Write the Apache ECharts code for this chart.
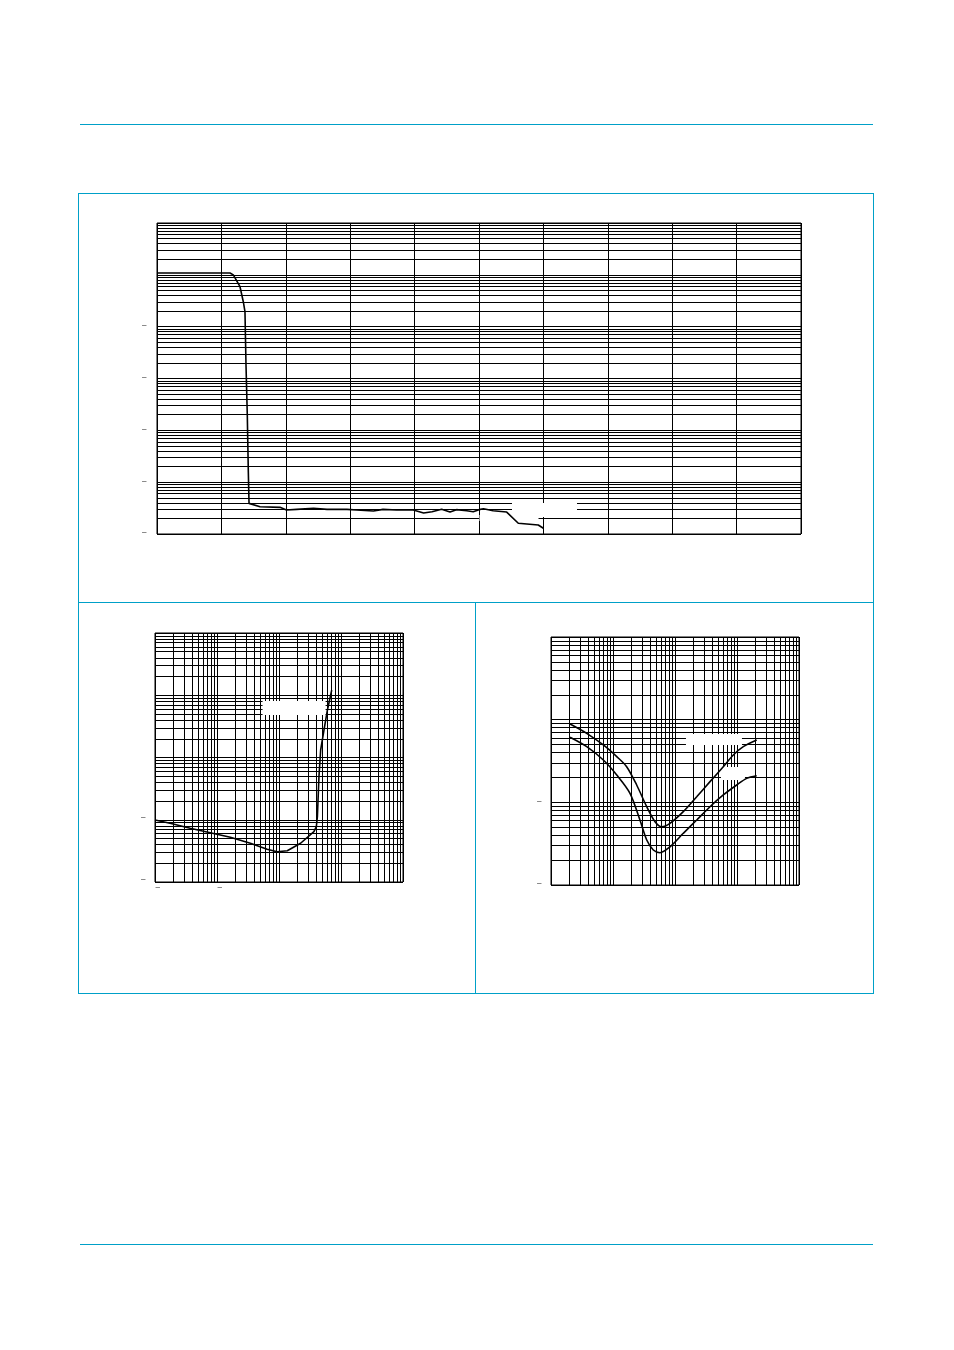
<!DOCTYPE html>
<html><head><meta charset="utf-8">
<script src="https://cdn.jsdelivr.net/npm/echarts@6/dist/echarts.min.js"></script>
<style>
html,body{margin:0;padding:0;background:#fff;}
#page{position:relative;width:954px;height:1350px;overflow:hidden;background:#fff;}
#chart{position:absolute;left:0;top:0;width:954px;height:1350px;}
.c{position:absolute;background:#00a0c8;}
</style></head><body>
<div id="page">
<div class="c" style="left:80px;top:123.5px;width:793px;height:1.5px"></div>
<div class="c" style="left:80px;top:1243.5px;width:793px;height:1.5px"></div>
<div class="c" style="left:78px;top:193px;width:796px;height:1px"></div>
<div class="c" style="left:78px;top:993px;width:796px;height:1px"></div>
<div class="c" style="left:78px;top:193px;width:1px;height:801px"></div>
<div class="c" style="left:873px;top:193px;width:1px;height:801px"></div>
<div class="c" style="left:78px;top:602px;width:796px;height:1px"></div>
<div class="c" style="left:475px;top:602px;width:1px;height:392px"></div>
<div id="chart"></div>
</div>
<script>
// ---- data ----
// Top chart (linear x, log y)
const topX = [0, 1.134, 1.185, 1.211, 1.289, 1.340, 1.366, 1.382, 1.402, 1.418, 1.429, 1.444, 1.60, 1.91, 2.01, 2.17, 2.43, 2.64, 2.95, 3.10, 3.36, 3.51, 3.72, 3.98, 4.14, 4.27, 4.42, 4.55, 4.65, 4.81, 4.91, 5.00, 5.07, 5.22, 5.43, 5.61, 5.92, 6.00];
const topY = [1.085, 1.085, 1.0, 0.92, 0.59, 0.303, 0.195, 0.0182, 0.0020, 1.6e-4, 3.9e-5, 3.74e-5, 3.36e-5, 3.27e-5, 2.90e-5, 2.99e-5, 3.13e-5, 2.99e-5, 2.99e-5, 2.90e-5, 2.77e-5, 2.99e-5, 2.90e-5, 2.90e-5, 2.55e-5, 2.69e-5, 2.99e-5, 2.65e-5, 2.95e-5, 2.81e-5, 2.68e-5, 2.95e-5, 3.08e-5, 2.80e-5, 2.65e-5, 1.61e-5, 1.49e-5, 1.29e-5];
// Bottom-left chart (log x, log y)
const blX = [0.01, 0.0175, 0.0369, 0.0778, 0.164, 0.345, 0.644, 0.935, 1.36, 2.23, 3.66, 4.0, 4.16, 4.41, 4.70, 5.32, 6.04, 7.08];
const blY = [0.099, 0.0877, 0.0729, 0.0620, 0.0523, 0.0419, 0.0335, 0.0307, 0.0318, 0.0419, 0.0643, 0.0773, 0.112, 0.492, 1.32, 2.77, 5.80, 12.1];
// Bottom-right chart (log x, log y), two curves
const brUpperX = [2.03, 3.77, 6.98, 11.5, 16.6, 24.1, 35.0, 47.6, 61.0, 83.0, 136, 224, 367, 601, 872, 1264, 2078];
const brUpperY = [0.887, 0.684, 0.494, 0.357, 0.270, 0.162, 0.0886, 0.0583, 0.0507, 0.0557, 0.0771, 0.117, 0.178, 0.270, 0.374, 0.471, 0.568];
const brLowerX = [2.03, 3.77, 6.98, 11.5, 18.8, 27.2, 35.0, 44.7, 57.3, 83.0, 136, 224, 367, 601, 989, 1432, 2078];
const brLowerY = [0.612, 0.471, 0.325, 0.214, 0.1285, 0.0611, 0.0350, 0.0265, 0.0246, 0.0290, 0.0422, 0.0611, 0.0885, 0.1227, 0.162, 0.195, 0.210];
// Tick labels (only the minus signs survive in the reference)
const topYTicks = [1e-5, 1e-4, 1e-3, 1e-2, 1e-1, 1, 10];
const topYLabels = ['–', '–', '–', '–', '–', '', ''];
const blXTicks = [0.01, 0.1, 1, 10, 100];
const blXLabels = ['–', '–', '', '', ''];
const blYTicks = [0.01, 0.1, 1, 10, 100];
const blYLabels = ['–', '–', '', '', ''];
const brYTicks = [0.01, 0.1, 1, 10];
const brYLabels = ['–', '–', '', ''];
// Blank (white) label boxes left in the reference: [x, y, w, h]
const topBoxes = [[6.017, 2.90e-5, 65, 14], [5.466, 2.03e-5, 59, 6]];
const blBoxes = [[1.75, 6.24, 63, 14]];
const brBoxes = [[425, 0.575, 56, 11], [861, 0.2234, 24, 13]];

// ---- helpers ----
function minors(loExp, hiExp) {
  const out = [];
  for (let e = loExp; e < hiExp; e++) for (let m = 2; m <= 9; m++) out.push(+(m * Math.pow(10, e)).toPrecision(6));
  return out;
}
function labeler(ticks, labels) {
  return function (v) {
    for (let i = 0; i < ticks.length; i++) if (Math.abs(Math.log10(v) - Math.log10(ticks[i])) < 1e-6) return labels[i];
    return '';
  };
}
const BLACK = '#000';
const split = { show: true, lineStyle: { color: BLACK, width: 1 } };
function gridLineSeries(xi, yi, xMinor, yMinor) {
  const d = [];
  xMinor.forEach(v => d.push({ xAxis: v }));
  yMinor.forEach(v => d.push({ yAxis: v }));
  return {
    type: 'line', xAxisIndex: xi, yAxisIndex: yi, data: [], silent: true, z: 1,
    markLine: { silent: true, z: 1, precision: 12, symbol: ['none', 'none'], animation: false,
      label: { show: false }, lineStyle: { color: BLACK, width: 1, type: 'solid' },
      emphasis: { disabled: true }, data: d }
  };
}
function boxSeries(xi, yi, boxes) {
  return {
    type: 'line', xAxisIndex: xi, yAxisIndex: yi, data: [], silent: true, z: 1,
    markPoint: { silent: true, z: 1.5, animation: false, label: { show: false },
      data: boxes.map(b => ({ coord: [b[0], b[1]], symbol: 'rect', symbolSize: [b[2], b[3]],
        itemStyle: { color: '#fff', borderWidth: 0 } })) }
  };
}
function curve(xi, yi, xs, ys, smooth) {
  return { type: 'line', xAxisIndex: xi, yAxisIndex: yi, z: 3, showSymbol: false, smooth: smooth || false,
    silent: true, animation: false, lineStyle: { color: BLACK, width: 1.6 },
    data: xs.map((x, i) => [x, ys[i]]) };
}
const lblBase = { color: '#666', fontSize: 11, fontFamily: 'DejaVu Sans' };

const option = {
  animation: false,
  backgroundColor: 'transparent',
  grid: [
    { left: 157, top: 223, width: 644, height: 311, show: true, borderColor: BLACK, borderWidth: 1, backgroundColor: 'transparent' },
    { left: 155, top: 633, width: 248, height: 249, show: true, borderColor: BLACK, borderWidth: 1, backgroundColor: 'transparent' },
    { left: 551, top: 637, width: 248, height: 248, show: true, borderColor: BLACK, borderWidth: 1, backgroundColor: 'transparent' }
  ],
  xAxis: [
    { gridIndex: 0, type: 'value', min: 0, max: 10, interval: 1, axisLine: { show: false }, axisTick: { show: false }, axisLabel: { show: false }, splitLine: split },
    { gridIndex: 1, type: 'log', logBase: 10, min: 0.01, max: 100, splitNumber: 4, axisLine: { show: false }, axisTick: { show: false },
      axisLabel: Object.assign({ formatter: labeler(blXTicks, blXLabels), align: 'left', margin: 0, showMinLabel: true, showMaxLabel: true }, lblBase), splitLine: split },
    { gridIndex: 2, type: 'log', logBase: 10, min: 1, max: 10000, splitNumber: 4, axisLine: { show: false }, axisTick: { show: false }, axisLabel: { show: false }, splitLine: split }
  ],
  yAxis: [
    { gridIndex: 0, type: 'log', logBase: 10, min: 1e-5, max: 10, splitNumber: 6, axisLine: { show: false }, axisTick: { show: false },
      axisLabel: Object.assign({ formatter: labeler(topYTicks, topYLabels), margin: 10, showMinLabel: true, showMaxLabel: true, verticalAlign: 'bottom', padding: [0, 0, -4, 0] }, lblBase), splitLine: split },
    { gridIndex: 1, type: 'log', logBase: 10, min: 0.01, max: 100, splitNumber: 4, axisLine: { show: false }, axisTick: { show: false },
      axisLabel: Object.assign({ formatter: labeler(blYTicks, blYLabels), margin: 9, showMinLabel: true, showMaxLabel: true, verticalAlign: 'bottom', padding: [0, 0, -3, 0] }, lblBase), splitLine: split },
    { gridIndex: 2, type: 'log', logBase: 10, min: 0.01, max: 10, splitNumber: 3, axisLine: { show: false }, axisTick: { show: false },
      axisLabel: Object.assign({ formatter: labeler(brYTicks, brYLabels), margin: 9, showMinLabel: true, showMaxLabel: true, verticalAlign: 'bottom', padding: [0, 0, -4, 0] }, lblBase), splitLine: split }
  ],
  series: [
    gridLineSeries(0, 0, [], minors(-5, 1)),
    gridLineSeries(1, 1, minors(-2, 2), minors(-2, 2)),
    gridLineSeries(2, 2, minors(0, 4), minors(-2, 1)),
    boxSeries(0, 0, topBoxes),
    boxSeries(1, 1, blBoxes),
    boxSeries(2, 2, brBoxes),
    curve(0, 0, topX, topY, false),
    curve(1, 1, blX, blY, false),
    curve(2, 2, brUpperX, brUpperY, 0.3),
    curve(2, 2, brLowerX, brLowerY, 0.3)
  ]
};
const chart = echarts.init(document.getElementById('chart'), null, { renderer: 'canvas' });
chart.setOption(option);
</script>
</body></html>
